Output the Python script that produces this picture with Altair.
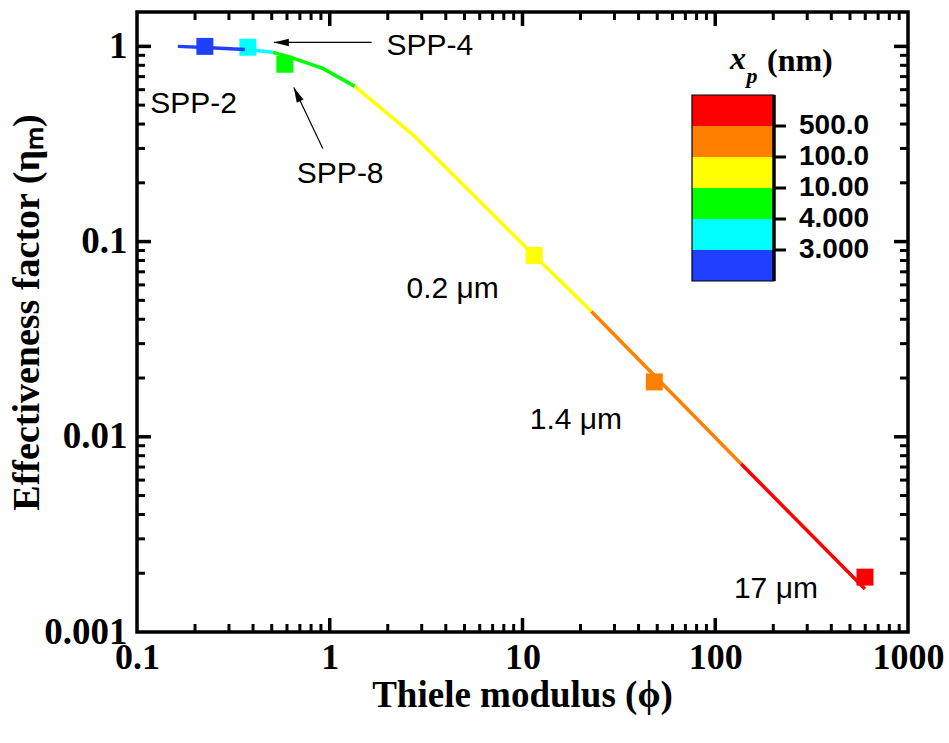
import altair as alt
import pandas as pd

# ---------------- data ----------------
# curve (Thiele modulus vs effectiveness factor), coloured by x_p band
line_phi = [0.163, 0.225, 0.363, 0.507, 0.605, 0.92, 1.35, 2.72, 11.5, 22.8, 136, 598]
line_eta = [1.0, 0.988, 0.965, 0.932, 0.889, 0.771, 0.624, 0.35, 0.0848, 0.0438, 0.00727, 0.00166]
seg_start = [0, 2, 3, 6, 9, 10]
seg_end = [2, 3, 6, 9, 10, 11]
band_colors = ["#2040FF", "#00FFFF", "#00FF00", "#FFFF00", "#FF8000", "#FF0000"]

# measured points (squares)
sq_phi = [0.225, 0.376, 0.585, 11.5, 48.3, 598]
sq_eta = [1.0, 0.99, 0.81, 0.0848, 0.0191, 0.00191]

# annotations
ann_text = ["SPP-4", "SPP-2", "SPP-8", "0.2 \u03bcm", "1.4 \u03bcm", "17 \u03bcm"]
ann_phi = [1.97, 0.117, 0.675, 2.5, 10.9, 125]
ann_eta = [1.0, 0.504, 0.223, 0.0574, 0.01222, 0.00166]

# arrows (tail -> tip)
arr_tail_phi = [1.65, 0.92]
arr_tail_eta = [1.048, 0.30]
arr_tip_phi = [0.513, 0.651]
arr_tip_eta = [1.048, 0.616]
arr_angle = [270, 335]

# colour bar legend
legend_colors = ["#FF0000", "#FF8000", "#FFFF00", "#00FF00", "#00FFFF", "#2040FF"]
legend_labels = ["500.0", "100.0", "10.00", "4.000", "3.000"]

# axis ticks
x_labels = [0.1, 1, 10, 100, 1000]
y_labels = [0.001, 0.01, 0.1, 1]
x_major = [1, 10, 100]
x_minor = [k * 10.0 ** e for e in range(-1, 3) for k in range(2, 10)]
y_major = [0.01, 0.1, 1]
y_minor = [k * 10.0 ** e for e in range(-3, 0) for k in range(2, 10)]

W, H = 771, 620
SERIF = "Liberation Serif"
SANS = "Liberation Sans"

xs = alt.Scale(type="log", domain=[0.1, 1000], nice=False)
ys = alt.Scale(type="log", domain=[0.001, 1.5], nice=False)

xaxis = alt.Axis(
    title="Thiele modulus (\u03d5)", values=x_labels, format="~g", grid=False,
    domain=False, ticks=False, tickSize=0, labelFlush=False, labelOverlap=False,
    labelFont=SERIF, labelFontWeight="bold", labelFontSize=36, labelColor="black",
    labelPadding=8, titleFont=SERIF, titleFontWeight="bold", titleFontSize=37,
    titleColor="black", titleX=385, titleY=63, titleBaseline="middle",
)
yaxis = alt.Axis(
    title="Effectiveness factor (\u03b7\u2098)", values=y_labels, format="~g", grid=False,
    domain=False, ticks=False, tickSize=0, labelFlush=False, labelOverlap=False,
    labelFont=SERIF, labelFontWeight="bold", labelFontSize=37, labelColor="black",
    labelPadding=10, titleFont=SERIF, titleFontWeight="bold", titleFontSize=38,
    titleColor="black", titleX=-110, titleY=300, titleBaseline="middle", titleAngle=270,
)


def X(f):
    return alt.X(f, type="quantitative", scale=xs, axis=xaxis)


def Y(f):
    return alt.Y(f, type="quantitative", scale=ys, axis=yaxis)


# line data
rows = []
for s, (a, b) in enumerate(zip(seg_start, seg_end)):
    for i in range(a, b + 1):
        rows.append({"phi": line_phi[i], "eta": line_eta[i], "seg": s, "i": i, "color": band_colors[s]})
line_df = pd.DataFrame(rows)

sq_df = pd.DataFrame({"phi": sq_phi, "eta": sq_eta, "color": band_colors})
ann_df = pd.DataFrame({"phi": ann_phi, "eta": ann_eta, "label": ann_text})
arr_df = pd.DataFrame({"phi": arr_tail_phi, "eta": arr_tail_eta, "phi2": arr_tip_phi,
                       "eta2": arr_tip_eta, "ang": arr_angle})

squares = alt.Chart(sq_df).mark_square(size=289, opacity=1).encode(
    x=X("phi"), y=Y("eta"), color=alt.Color("color:N", scale=None))

line = alt.Chart(line_df).mark_line(strokeWidth=3.5, strokeCap="butt").encode(
    x=X("phi"), y=Y("eta"), detail="seg:N", order="i:Q",
    color=alt.Color("color:N", scale=None))

arrow_lines = alt.Chart(arr_df).mark_rule(color="black", strokeWidth=1.2).encode(
    x=X("phi"), y=Y("eta"), x2="phi2", y2="eta2")
arrow_heads = alt.Chart(arr_df).mark_point(
    shape="M0,0L0.25,1L-0.25,1Z", size=900, filled=True, color="black", opacity=1).encode(
    x=X("phi2"), y=Y("eta2"), angle=alt.Angle("ang:Q", scale=None))

texts = alt.Chart(ann_df).mark_text(
    align="left", baseline="middle", font=SANS, fontSize=30, color="black").encode(
    x=X("phi"), y=Y("eta"), text="label:N")

# inward ticks on all four sides
def xt(vals, y0, y1, w):
    return alt.Chart(pd.DataFrame({"v": vals})).mark_rule(color="black", strokeWidth=w).encode(
        x=X("v"), y=alt.value(y0), y2=alt.value(y1))


def yt(vals, x0, x1, w):
    return alt.Chart(pd.DataFrame({"v": vals})).mark_rule(color="black", strokeWidth=w).encode(
        y=Y("v"), x=alt.value(x0), x2=alt.value(x1))


ticks = [
    xt(x_major, H, H - 14, 3.5), xt(x_major, 0, 14, 3.5),
    xt(x_minor, H, H - 8, 3), xt(x_minor, 0, 8, 3),
    yt(y_major, 0, 14, 3.5), yt(y_major, W, W - 14, 3.5),
    yt(y_minor, 0, 8, 3), yt(y_minor, W, W - 8, 3),
]

main = alt.layer(squares, line, arrow_lines, arrow_heads, texts, *ticks)

# ---------------- colour bar legend + plot frame ----------------
LY = alt.Scale(domain=[0, 6], range=[83, 269])
band_df = pd.DataFrame({"lo": list(range(6)), "hi": list(range(1, 7)), "color": legend_colors})
lab_df = pd.DataFrame({"pos": list(range(1, 6)), "label": legend_labels})
frame_df = pd.DataFrame({"lo": [0], "hi": [6]})

plot_frame = alt.Chart(frame_df).mark_rect(fill=None, stroke="black", strokeWidth=3.5).encode(
    x=alt.value(0), x2=alt.value(W), y=alt.value(0), y2=alt.value(H))

bands = alt.Chart(band_df).mark_rect().encode(
    x=alt.value(555), x2=alt.value(637),
    y=alt.Y("lo:Q", scale=LY, axis=None), y2="hi:Q",
    color=alt.Color("color:N", scale=None))
bframe = alt.Chart(frame_df).mark_rect(fill=None, stroke="black", strokeWidth=1.2).encode(
    x=alt.value(555), x2=alt.value(637), y=alt.Y("lo:Q", scale=LY, axis=None), y2="hi:Q")
bright = alt.Chart(frame_df).mark_rule(color="black", strokeWidth=3.5).encode(
    x=alt.value(637), y=alt.Y("lo:Q", scale=LY, axis=None), y2="hi:Q")
bticks = alt.Chart(lab_df).mark_rule(color="black", strokeWidth=3).encode(
    x=alt.value(637), x2=alt.value(649), y=alt.Y("pos:Q", scale=LY, axis=None))
blabels = alt.Chart(lab_df).mark_text(
    align="left", baseline="middle", font=SANS, fontWeight="bold", fontSize=28, color="black").encode(
    x=alt.value(662), y=alt.Y("pos:Q", scale=LY, axis=None), text="label:N")
title_df = pd.DataFrame({"t": ["x_p (nm)"]})
tx = alt.Chart(title_df).mark_text(
    text="x", align="center", baseline="middle", font=SERIF, fontWeight="bold",
    fontStyle="italic", fontSize=32, color="black").encode(x=alt.value(601), y=alt.value(47))
tp = alt.Chart(title_df).mark_text(
    text="p", align="center", baseline="middle", font=SERIF, fontWeight="bold",
    fontStyle="italic", fontSize=22, color="black").encode(x=alt.value(615), y=alt.value(64))
tnm = alt.Chart(title_df).mark_text(
    text="(nm)", align="left", baseline="middle", font=SERIF, fontWeight="bold",
    fontSize=32, color="black").encode(x=alt.value(630), y=alt.value(49))

legend = alt.layer(plot_frame, bands, bframe, bright, bticks, blabels, tx, tp, tnm)

chart = alt.layer(main, legend).resolve_scale(y="independent").properties(
    width=W, height=H,
    padding={"left": 137, "top": 12, "right": 41, "bottom": 111},
    autosize=alt.AutoSizeParams(type="none"),
).configure_view(stroke="black", strokeWidth=3).configure(background="white")

chart.save("out.html", embed_options={"renderer": "svg", "actions": False})
